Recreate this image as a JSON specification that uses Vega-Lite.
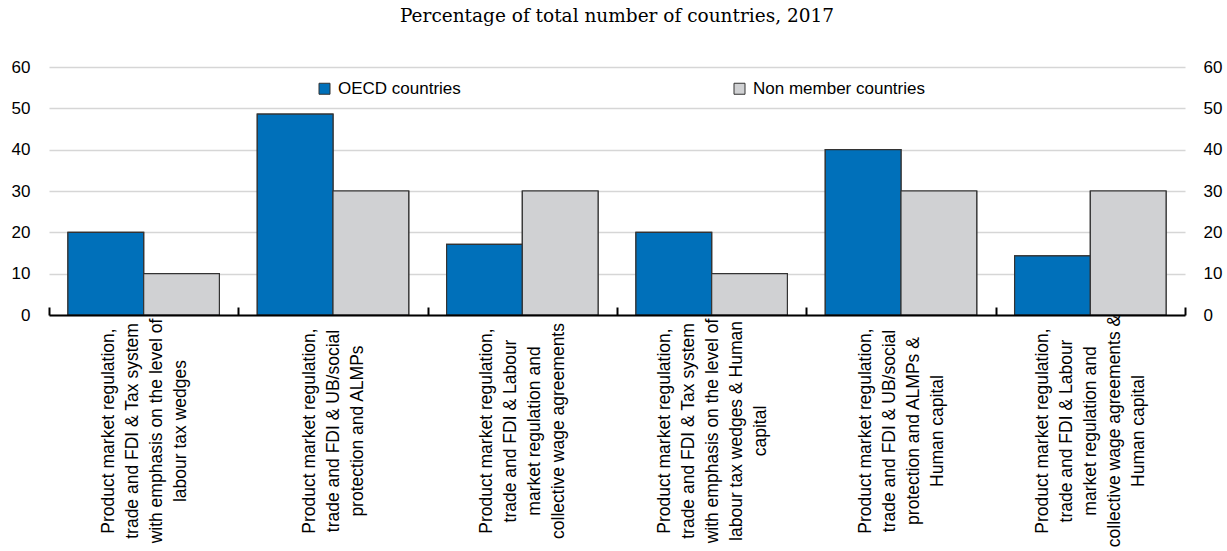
{
  "$schema": "https://vega.github.io/schema/vega-lite/v6.json",
  "width": 1136,
  "height": 248,
  "autosize": {"type": "none"},
  "padding": {"left": 49, "top": 67, "right": 42, "bottom": 236},
  "background": "white",
  "title": {
    "text": "Percentage of total number of countries, 2017",
    "font": "DejaVu Serif",
    "fontSize": 18.5,
    "fontWeight": "normal",
    "color": "#000000",
    "anchor": "middle",
    "baseline": "alphabetic",
    "offset": 18
  },
  "data": {
    "values": [
      {"category": "Product market regulation,|trade and FDI & Tax system|with emphasis on the level of|labour tax wedges", "lines": 4, "group": "OECD countries", "value": 20},
      {"category": "Product market regulation,|trade and FDI & Tax system|with emphasis on the level of|labour tax wedges", "lines": 4, "group": "Non member countries", "value": 10},
      {"category": "Product market regulation,|trade and FDI & UB/social|protection and ALMPs", "lines": 3, "group": "OECD countries", "value": 48.6},
      {"category": "Product market regulation,|trade and FDI & UB/social|protection and ALMPs", "lines": 3, "group": "Non member countries", "value": 30},
      {"category": "Product market regulation,|trade and FDI & Labour|market regulation and|collective wage agreements", "lines": 4, "group": "OECD countries", "value": 17.1},
      {"category": "Product market regulation,|trade and FDI & Labour|market regulation and|collective wage agreements", "lines": 4, "group": "Non member countries", "value": 30},
      {"category": "Product market regulation,|trade and FDI & Tax system|with emphasis on the level of|labour tax wedges & Human|capital", "lines": 5, "group": "OECD countries", "value": 20},
      {"category": "Product market regulation,|trade and FDI & Tax system|with emphasis on the level of|labour tax wedges & Human|capital", "lines": 5, "group": "Non member countries", "value": 10},
      {"category": "Product market regulation,|trade and FDI & UB/social|protection and ALMPs &|Human capital", "lines": 4, "group": "OECD countries", "value": 40},
      {"category": "Product market regulation,|trade and FDI & UB/social|protection and ALMPs &|Human capital", "lines": 4, "group": "Non member countries", "value": 30},
      {"category": "Product market regulation,|trade and FDI & Labour|market regulation and|collective wage agreements &|Human capital", "lines": 5, "group": "OECD countries", "value": 14.3},
      {"category": "Product market regulation,|trade and FDI & Labour|market regulation and|collective wage agreements &|Human capital", "lines": 5, "group": "Non member countries", "value": 30}
    ]
  },
  "encoding": {
    "x": {
      "field": "category",
      "type": "nominal",
      "sort": null,
      "scale": {"paddingInner": 0, "paddingOuter": 0},
      "axis": {
        "title": null,
        "zindex": 1,
        "domainColor": "#000000",
        "domainWidth": 2,
        "ticks": true,
        "tickBand": "extent",
        "tickSize": -8,
        "tickColor": "#000000",
        "tickWidth": 2,
        "labels": false
      }
    }
  },
  "layer": [
    {
      "mark": {"type": "bar", "stroke": "#333333", "strokeWidth": 1.2},
      "encoding": {
        "xOffset": {
          "field": "group",
          "type": "nominal",
          "scale": {"domain": ["OECD countries", "Non member countries"], "paddingInner": 0, "paddingOuter": 0.25}
        },
        "color": {
          "field": "group",
          "type": "nominal",
          "scale": {"domain": ["OECD countries", "Non member countries"], "range": ["#0070BA", "#D0D1D3"]},
          "legend": {
            "orient": "none",
            "legendX": 267,
            "legendY": 13,
            "direction": "horizontal",
            "title": null,
            "symbolType": "square",
            "symbolSize": 121,
            "symbolStrokeColor": "#333333",
            "symbolStrokeWidth": 1,
            "symbolOpacity": 1,
            "labelFont": "Liberation Sans",
            "labelFontSize": 17,
            "labelColor": "#000000",
            "labelOffset": 5,
            "labelLimit": 400,
            "columnPadding": 270
          }
        },
        "y": {
          "field": "value",
          "type": "quantitative",
          "scale": {"domain": [0, 60]},
          "axis": {
            "orient": "left",
            "title": null,
            "values": [0, 10, 20, 30, 40, 50, 60],
            "grid": true,
            "gridColor": "#D6D6D6",
            "gridWidth": 1.5,
            "ticks": false,
            "domain": false,
            "labelPadding": 19,
            "labelFont": "Liberation Sans",
            "labelFontSize": 17,
            "labelColor": "#000000"
          }
        }
      }
    },
    {
      "mark": {"type": "bar", "stroke": "#333333", "strokeWidth": 1.2},
      "encoding": {
        "xOffset": {
          "field": "group",
          "type": "nominal",
          "scale": {"domain": ["OECD countries", "Non member countries"], "paddingInner": 0, "paddingOuter": 0.25}
        },
        "color": {"field": "group", "type": "nominal"},
        "y": {
          "field": "value",
          "type": "quantitative",
          "scale": {"domain": [0, 60]},
          "axis": {
            "orient": "right",
            "title": null,
            "values": [0, 10, 20, 30, 40, 50, 60],
            "grid": false,
            "ticks": false,
            "domain": false,
            "labelPadding": 18,
            "labelFont": "Liberation Sans",
            "labelFontSize": 17,
            "labelColor": "#000000"
          }
        }
      }
    },
    {
      "transform": [{"filter": "datum.group === 'OECD countries'"}],
      "mark": {
        "type": "text",
        "angle": 270,
        "align": "center",
        "baseline": "middle",
        "lineBreak": "|",
        "lineHeight": 24,
        "font": "Liberation Sans",
        "fontSize": 17.5,
        "color": "#000000",
        "radius": 116,
        "theta": 3.14159265,
        "clip": false
      },
      "encoding": {
        "xOffset": {"field": "lines", "type": "quantitative", "scale": {"domain": [3, 5], "range": [71.67, 47.67], "zero": false}},
        "y": {"datum": 0, "type": "quantitative", "axis": null},
        "text": {"field": "category", "type": "nominal"}
      }
    }
  ],
  "resolve": {"axis": {"y": "independent"}, "scale": {"xOffset": "independent"}},
  "config": {"view": {"stroke": null}}
}
